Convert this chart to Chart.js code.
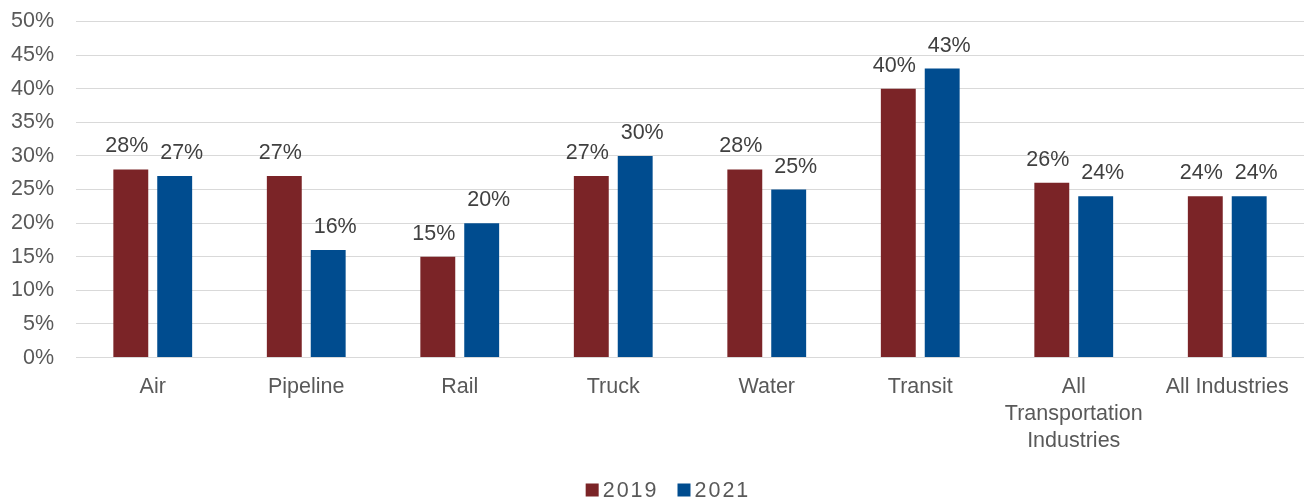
<!DOCTYPE html>
<html>
<head>
<meta charset="utf-8">
<script src="https://cdn.jsdelivr.net/npm/chart.js@4"></script>
<style>
  html, body { margin: 0; padding: 0; background: #fff; }
  #wrap { width: 1304px; height: 504px; }
</style>
</head>
<body>
<div id="wrap"><canvas id="chart" width="1304" height="504"></canvas></div>
<script>
// Share of workforce, by mode
const categories = ["Air", "Pipeline", "Rail", "Truck", "Water", "Transit",
  ["All", "Transportation", "Industries"], "All Industries"];
const values2019 = [28, 27, 15, 27, 28, 40, 26, 24];
const values2021 = [27, 16, 20, 30, 25, 43, 24, 24];
const yTicks = [0, 5, 10, 15, 20, 25, 30, 35, 40, 45, 50];

const FONT = "'Liberation Sans', Arial, sans-serif";
const TEXT = "#595959";
const SIZE = 21.5;

// --- value labels above each bar (nudged apart so neighbours don't collide) ---
const labelNudge = [-4, 7];
const barLabels = {
  id: "barLabels",
  afterDatasetsDraw(chart) {
    const ctx = chart.ctx;
    ctx.save();
    ctx.font = `${SIZE}px ${FONT}`;
    ctx.fillStyle = "#404040";
    ctx.textAlign = "center";
    ctx.textBaseline = "alphabetic";
    chart.data.datasets.forEach((ds, i) => {
      chart.getDatasetMeta(i).data.forEach((bar, j) => {
        ctx.fillText(ds.data[j] + "%", bar.x + labelNudge[i], bar.y - 17);
      });
    });
    ctx.restore();
  }
};

// --- compact legend under the axis ---
const bottomLegend = {
  id: "bottomLegend",
  afterDraw(chart) {
    const ctx = chart.ctx;
    const box = 13, gap = 4, spacing = 19, y = 490;
    ctx.save();
    ctx.font = `${SIZE}px ${FONT}`;
    ctx.letterSpacing = "2px";
    ctx.textBaseline = "middle";
    const items = chart.data.datasets.map(ds => ({
      text: ds.label, color: ds.backgroundColor, w: ctx.measureText(ds.label).width
    }));
    const total = items.reduce((s, it) => s + box + gap + it.w, 0) + spacing * (items.length - 1);
    let x = chart.width / 2 + 16 - total / 2;
    items.forEach(it => {
      ctx.fillStyle = it.color;
      ctx.fillRect(x, y - box / 2, box, box);
      ctx.fillStyle = TEXT;
      ctx.fillText(it.text, x + box + gap, y + 1);
      x += box + gap + it.w + spacing;
    });
    ctx.restore();
  }
};

new Chart(document.getElementById("chart"), {
  type: "bar",
  data: {
    labels: categories,
    datasets: [
      { label: "2019", data: values2019, backgroundColor: "#7B2427" },
      { label: "2021", data: values2021, backgroundColor: "#004C8F" }
    ]
  },
  options: {
    responsive: false,
    animation: false,
    layout: { padding: { top: 0, right: -2, left: 0, bottom: 41.5 } },
    datasets: { bar: { categoryPercentage: 0.572, barPercentage: 0.795 } },
    plugins: {
      legend: { display: false },
      tooltip: { enabled: false }
    },
    scales: {
      x: {
        grid: { display: false },
        border: { display: false },
        ticks: {
          font: { family: FONT, size: SIZE, lineHeight: 1.27 },
          color: TEXT, maxRotation: 0, autoSkip: false, padding: 7.5
        }
      },
      y: {
        min: 0,
        max: 50,
        afterBuildTicks: (axis) => { axis.ticks = yTicks.map(v => ({ value: v })); },
        afterFit: (axis) => {
          axis.width = 76;
          axis.paddingTop = 21.5;
          axis.paddingBottom = 12;
        },
        grid: { color: "#d9d9d9", lineWidth: 1, drawTicks: false },
        border: { display: false },
        ticks: {
          font: { family: FONT, size: SIZE },
          color: TEXT,
          padding: 22,
          callback: (v) => v + "%"
        }
      }
    }
  },
  plugins: [barLabels, bottomLegend]
});
</script>
</body>
</html>
